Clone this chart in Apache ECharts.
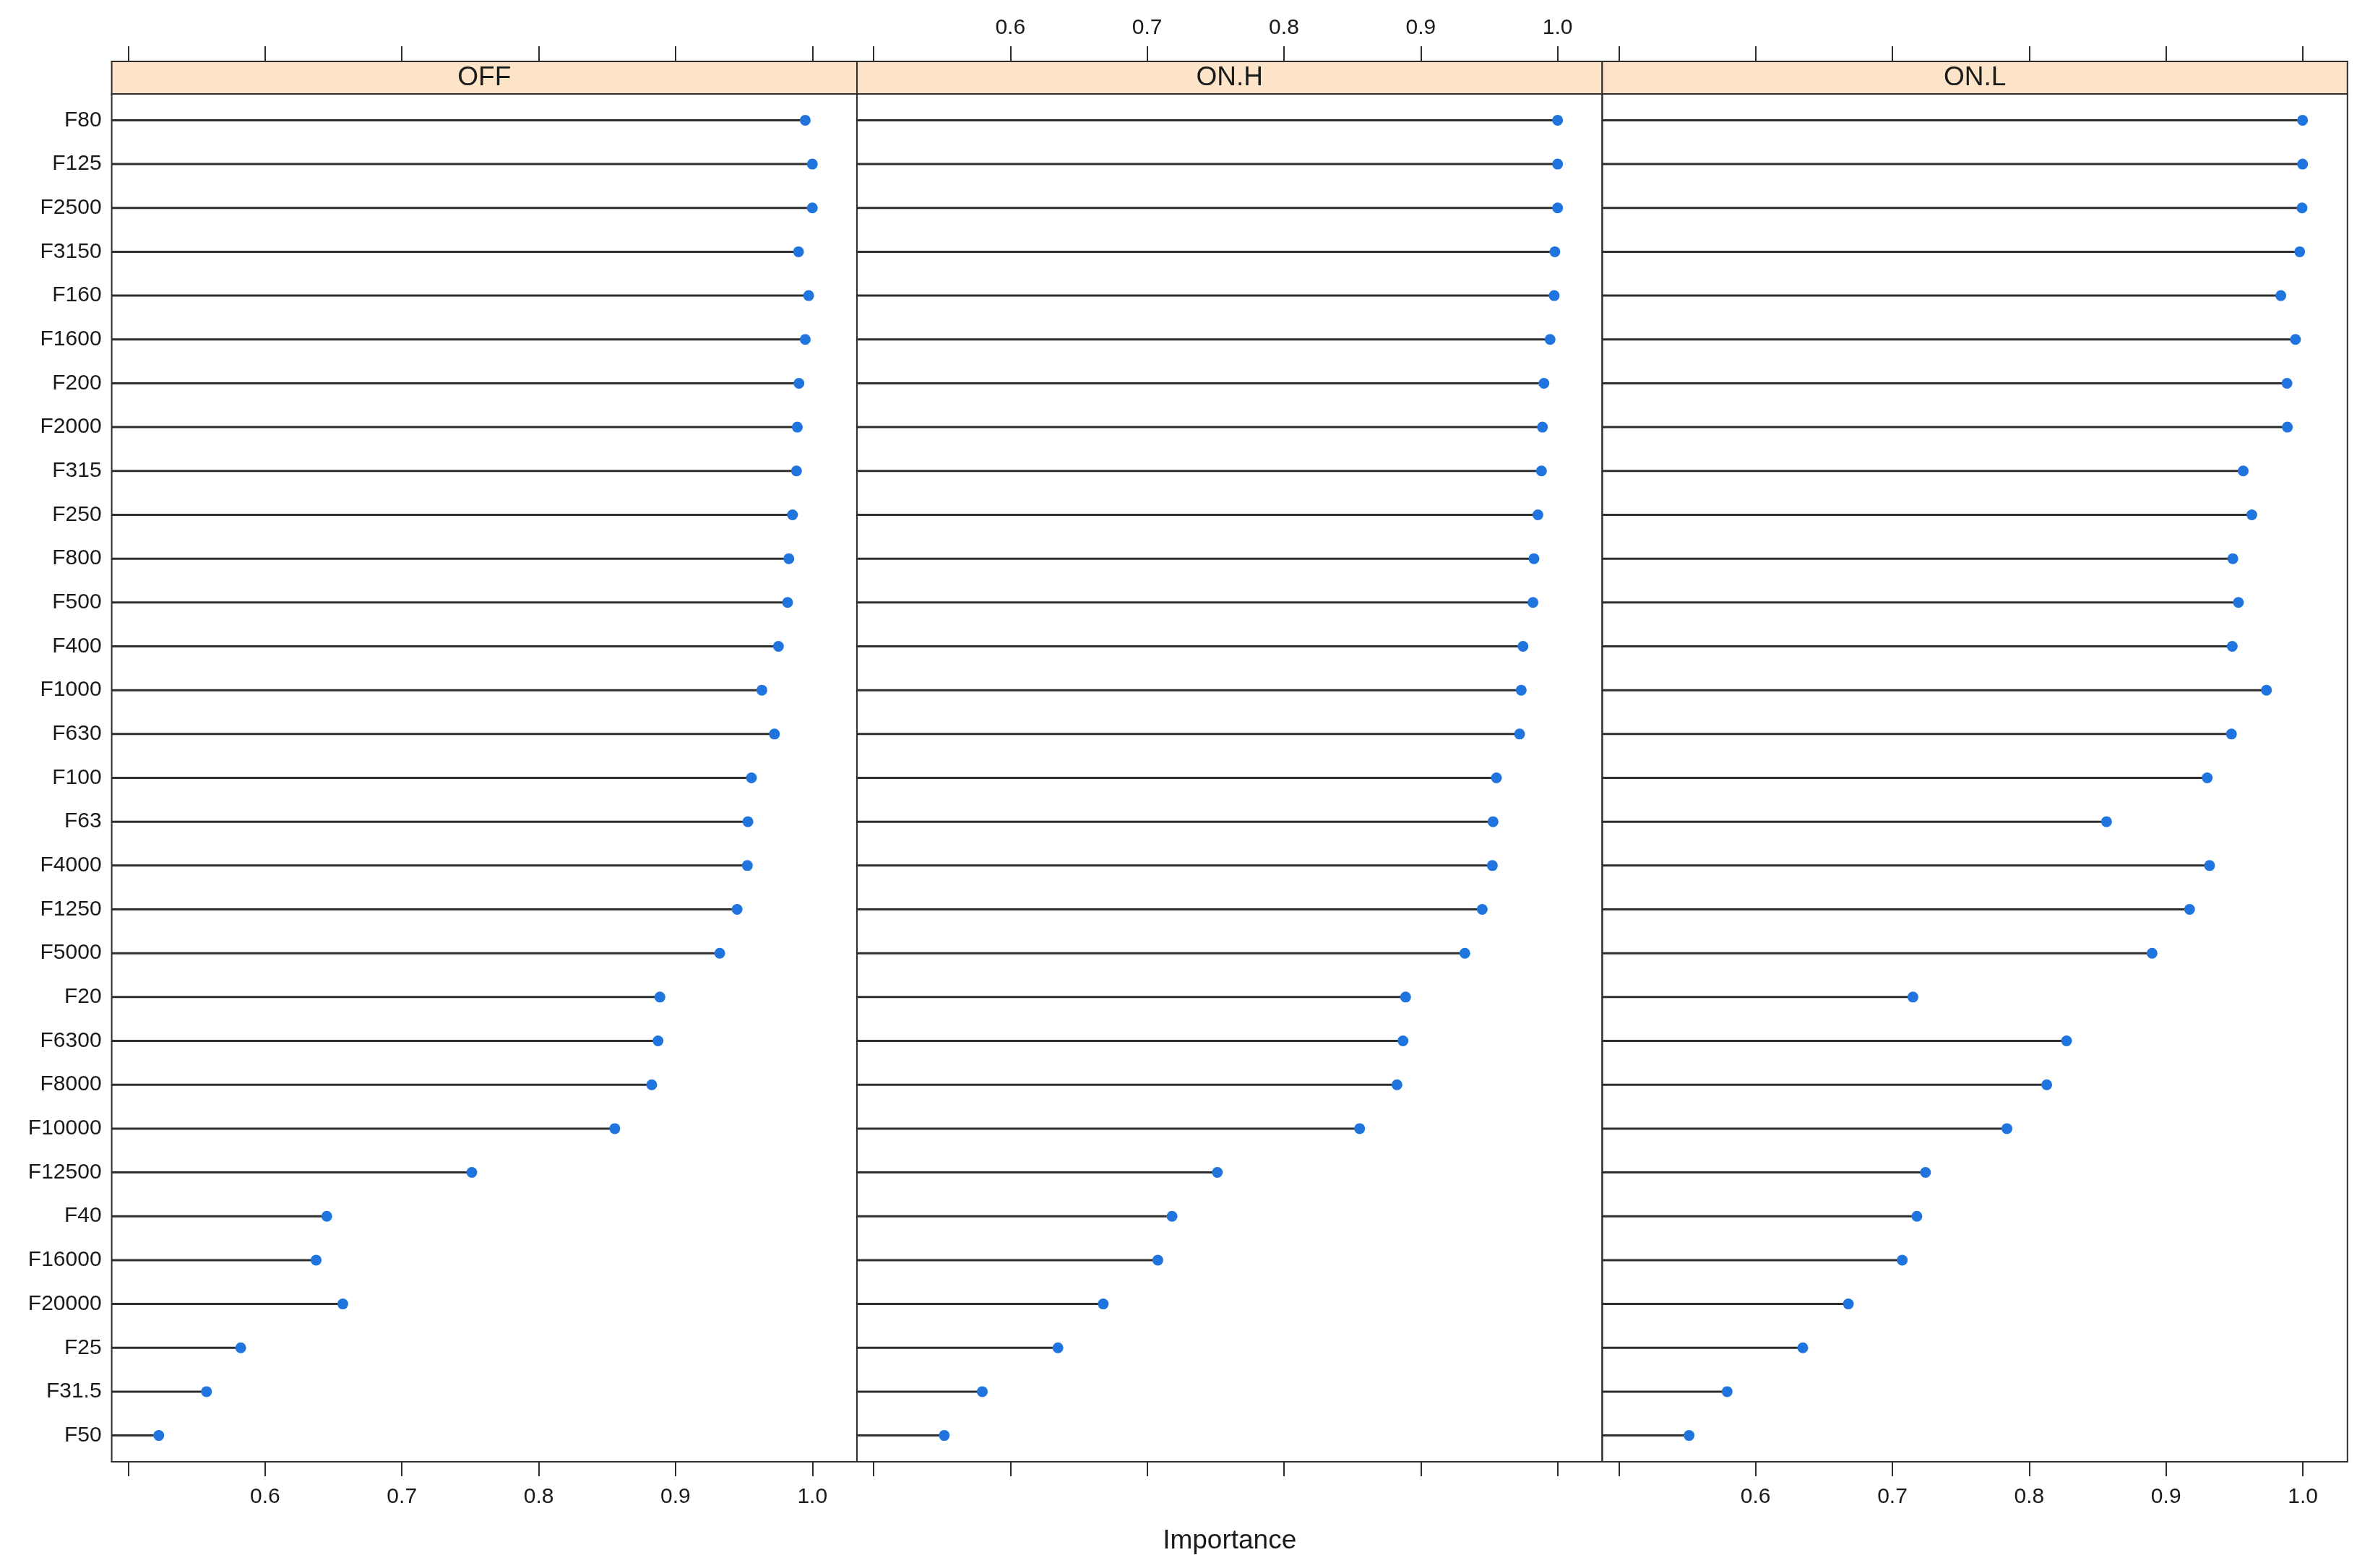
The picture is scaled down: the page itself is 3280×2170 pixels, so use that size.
<!DOCTYPE html>
<html>
<head>
<meta charset="utf-8">
<script src="https://cdn.jsdelivr.net/npm/echarts@6/dist/echarts.min.js"></script>
<style>
html,body{margin:0;padding:0;background:#fff;}
#chart{width:3280px;height:2170px;}
</style>
</head>
<body>
<div id="chart"></div>
<script>
// ---- data ----
var categories = ["F80","F125","F2500","F3150","F160","F1600","F200","F2000","F315","F250","F800","F500","F400","F1000","F630","F100","F63","F4000","F1250","F5000","F20","F6300","F8000","F10000","F12500","F40","F16000","F20000","F25","F31.5","F50"];
var panelNames = ["OFF", "ON.H", "ON.L"];
var valuesOFF = [0.9948,1.0000,1.0000,0.9899,0.9973,0.9948,0.9902,0.9890,0.9884,0.9855,0.9828,0.9819,0.9752,0.9631,0.9723,0.9555,0.9529,0.9525,0.9450,0.9323,0.8886,0.8872,0.8826,0.8556,0.7511,0.6451,0.6373,0.6568,0.5822,0.5572,0.5223];
var valuesONH = [1.0000,1.0000,1.0000,0.9980,0.9975,0.9945,0.9900,0.9889,0.9882,0.9856,0.9827,0.9820,0.9747,0.9734,0.9722,0.9553,0.9528,0.9523,0.9449,0.9322,0.8889,0.8870,0.8826,0.8553,0.7513,0.7182,0.7078,0.6679,0.6348,0.5795,0.5517];
var valuesONL = [0.9998,0.9998,0.9994,0.9977,0.9839,0.9946,0.9884,0.9887,0.9564,0.9627,0.9488,0.9529,0.9484,0.9734,0.9478,0.9301,0.8565,0.9318,0.9172,0.8898,0.7150,0.8273,0.8128,0.7837,0.7242,0.7179,0.7072,0.6678,0.6345,0.5792,0.5514];
var tickValues = [0.5, 0.6, 0.7, 0.8, 0.9, 1.0];
var tickLabels = [0.6, 0.7, 0.8, 0.9, 1.0];
var xAxisTitle = "Importance";

// ---- layout ----
var X_MIN = 0.4879, X_MAX = 1.0326;
var Y_MIN = 0.4, Y_MAX = categories.length + 0.6;
var PANEL_W = 1031.4;
var PANEL_LEFTS = [154.6, 1186.0, 2217.4];
var GRID_TOP = 130, GRID_BOTTOM_Y = 2023;
var STRIP_H = 45;
var FONT = "'Liberation Sans', Arial, Helvetica, sans-serif";
var TEXT_COLOR = "#1a1a1a";
var LINE_COLOR = "#2e2e2e";
var DOT_COLOR = "#1f74dd";
var STRIP_FILL = "#fde4c8";

var allValues = [valuesOFF, valuesONH, valuesONL];
var rowIdx = categories.map(function (c, i) { return i + 1; });

var grids = [], xAxes = [], yAxes = [], series = [], graphics = [];
for (var p = 0; p < 3; p++) {
  grids.push({
    left: PANEL_LEFTS[p], top: GRID_TOP, width: PANEL_W, height: GRID_BOTTOM_Y - GRID_TOP,
    show: true, borderColor: LINE_COLOR, borderWidth: 2, backgroundColor: 'transparent',
    containLabel: false
  });
  var bottomLabels = (p !== 1);
  xAxes.push({
    type: 'value', gridIndex: p, position: 'bottom', min: X_MIN, max: X_MAX,
    axisLine: { show: true, lineStyle: { color: LINE_COLOR, width: 2 } },
    axisTick: { show: true, length: 20, customValues: tickValues, lineStyle: { color: LINE_COLOR, width: 2 } },
    axisLabel: { show: bottomLabels, customValues: tickLabels, margin: 34, fontSize: 30, fontFamily: FONT, color: TEXT_COLOR,
      formatter: function (v) { return Number(v).toFixed(1); } },
    splitLine: { show: false }
  });
  xAxes.push({
    type: 'value', gridIndex: p, position: 'top', offset: STRIP_H, min: X_MIN, max: X_MAX,
    axisLine: { show: true, lineStyle: { color: LINE_COLOR, width: 2 } },
    axisTick: { show: true, length: 21, customValues: tickValues, lineStyle: { color: LINE_COLOR, width: 2 } },
    axisLabel: { show: !bottomLabels, customValues: tickLabels, margin: 31, fontSize: 30, fontFamily: FONT, color: TEXT_COLOR,
      formatter: function (v) { return Number(v).toFixed(1); } },
    splitLine: { show: false }
  });
  yAxes.push({
    type: 'value', gridIndex: p, min: Y_MIN, max: Y_MAX, inverse: true,
    axisLine: { show: false },
    axisTick: { show: false },
    axisLabel: { show: p === 0, customValues: rowIdx, margin: 14, fontSize: 30, fontFamily: FONT, color: TEXT_COLOR,
      formatter: function (v) { return categories[Math.round(v) - 1] || ''; } },
    splitLine: { show: false }
  });
  var data = allValues[p].map(function (v, i) { return [v, i + 1]; });
  series.push({
    type: 'custom', xAxisIndex: p * 2, yAxisIndex: p, data: data,
    encode: { x: 0, y: 1 },
    renderItem: function (params, api) {
      var v = api.value(0), r = api.value(1);
      var pt = api.coord([v, r]);
      var p0 = api.coord([X_MIN, r]);
      return {
        type: 'group', children: [
          { type: 'line', shape: { x1: p0[0], y1: pt[1], x2: pt[0], y2: pt[1] }, style: { stroke: LINE_COLOR, lineWidth: 3 } },
          { type: 'circle', shape: { cx: pt[0], cy: pt[1], r: 7.5 }, style: { fill: DOT_COLOR } }
        ]
      };
    }
  });
  graphics.push({
    type: 'rect', shape: { x: PANEL_LEFTS[p], y: GRID_TOP - STRIP_H, width: PANEL_W, height: STRIP_H },
    style: { fill: STRIP_FILL, stroke: LINE_COLOR, lineWidth: 2 }, z: 0
  });
  graphics.push({
    type: 'text', x: PANEL_LEFTS[p] + PANEL_W / 2, y: GRID_TOP - STRIP_H / 2,
    style: { text: panelNames[p], font: '37px ' + FONT, fill: TEXT_COLOR, textAlign: 'center', textVerticalAlign: 'middle' }, z: 10
  });
}
graphics.push({
  type: 'text', x: PANEL_LEFTS[1] + PANEL_W / 2, y: 2133,
  style: { text: xAxisTitle, font: '37px ' + FONT, fill: TEXT_COLOR, textAlign: 'center', textVerticalAlign: 'middle' }
});

var chart = echarts.init(document.getElementById('chart'), null, { renderer: 'canvas' });
chart.setOption({
  animation: false,
  backgroundColor: '#ffffff',
  grid: grids,
  xAxis: xAxes,
  yAxis: yAxes,
  series: series,
  graphic: graphics
});
</script>
</body>
</html>
